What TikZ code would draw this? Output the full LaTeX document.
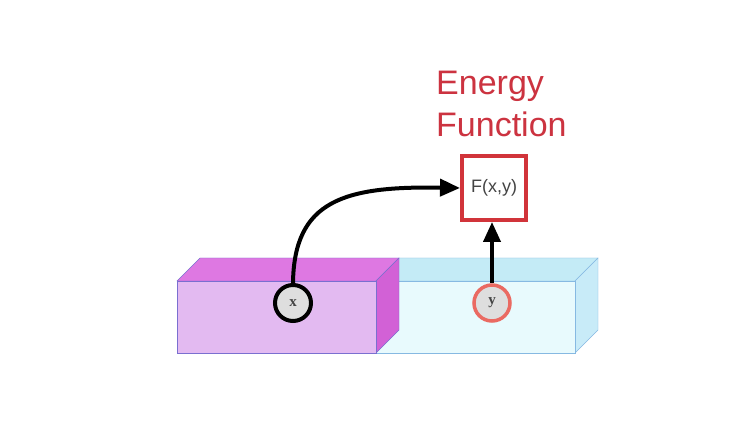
\documentclass[tikz,border=0pt]{standalone}
\usepackage{fontspec}
\setmainfont{Liberation Sans}
\newfontfamily\lblfont{Liberation Serif}
\usetikzlibrary{arrows.meta}
\definecolor{boxred}{HTML}{D1343A}
\definecolor{txtred}{HTML}{CC3340}
\definecolor{purpfront}{HTML}{E3BAF1}
\definecolor{purptop}{HTML}{DE78E2}
\definecolor{purpside}{HTML}{D261D6}
\definecolor{purpedge}{HTML}{7A6FD0}
\definecolor{cyanfront}{HTML}{E8FAFD}
\definecolor{cyantop}{HTML}{C4EBF6}
\definecolor{cyanside}{HTML}{C8EBF8}
\definecolor{cyanedge}{HTML}{86B9E2}
\definecolor{nodegray}{HTML}{DEDEDE}
\definecolor{yring}{HTML}{EA6A62}
\definecolor{inkgray}{HTML}{444444}
\tikzset{
  var/.style={circle, line width=4, fill=nodegray, minimum size=36, inner sep=0,
    text=inkgray, font=\lblfont\bfseries\fontsize{15}{15}\selectfont},
  link/.style={-{Triangle[length=20,width=17]}, line width=4}
}

\begin{document}
\begin{tikzpicture}[x=1pt,y=-1pt]
\useasboundingbox[fill=white] (0,0) rectangle (749,443);
\draw[cyanedge, fill=cyantop] (376,281) -- (399,258) -- (598,258) -- (575,281) -- cycle;
\draw[cyanedge, fill=cyanside] (575,281) -- (598,258) -- (598,330) -- (575,353) -- cycle;
\draw[cyanedge, fill=cyanfront] (376,281) rectangle (575,353);
\draw[purpedge, fill=purptop] (177,281) -- (200,258) -- (399,258) -- (376,281) -- cycle;
\draw[purpedge, fill=purpside] (376,281) -- (399,258) -- (399,330) -- (376,353) -- cycle;
\draw[purpedge, fill=purpfront] (177,281) rectangle (376,353);
\node[var, draw=black] (x) at (293,303) {x};
\node[var, draw=yring, line width=3.5] (y) at (492,303) {y};
\node[draw=boxred, line width=4, fill=white, minimum width=64, minimum height=64,
  inner sep=0, text=inkgray, font=\fontsize{18}{18}\selectfont] (F) at (494,188) {F(x,y)};
\node[anchor=north west, inner sep=0, align=left, text=txtred,
  font=\fontsize{34}{42}\selectfont] (title) at (436,71) {Energy\\Function};
\draw[link] (x.north) .. controls (294,200) and (345,186) .. (F.west);
\draw[link] (y.north) -- (y.north |- F.south);
\end{tikzpicture}
\end{document}
